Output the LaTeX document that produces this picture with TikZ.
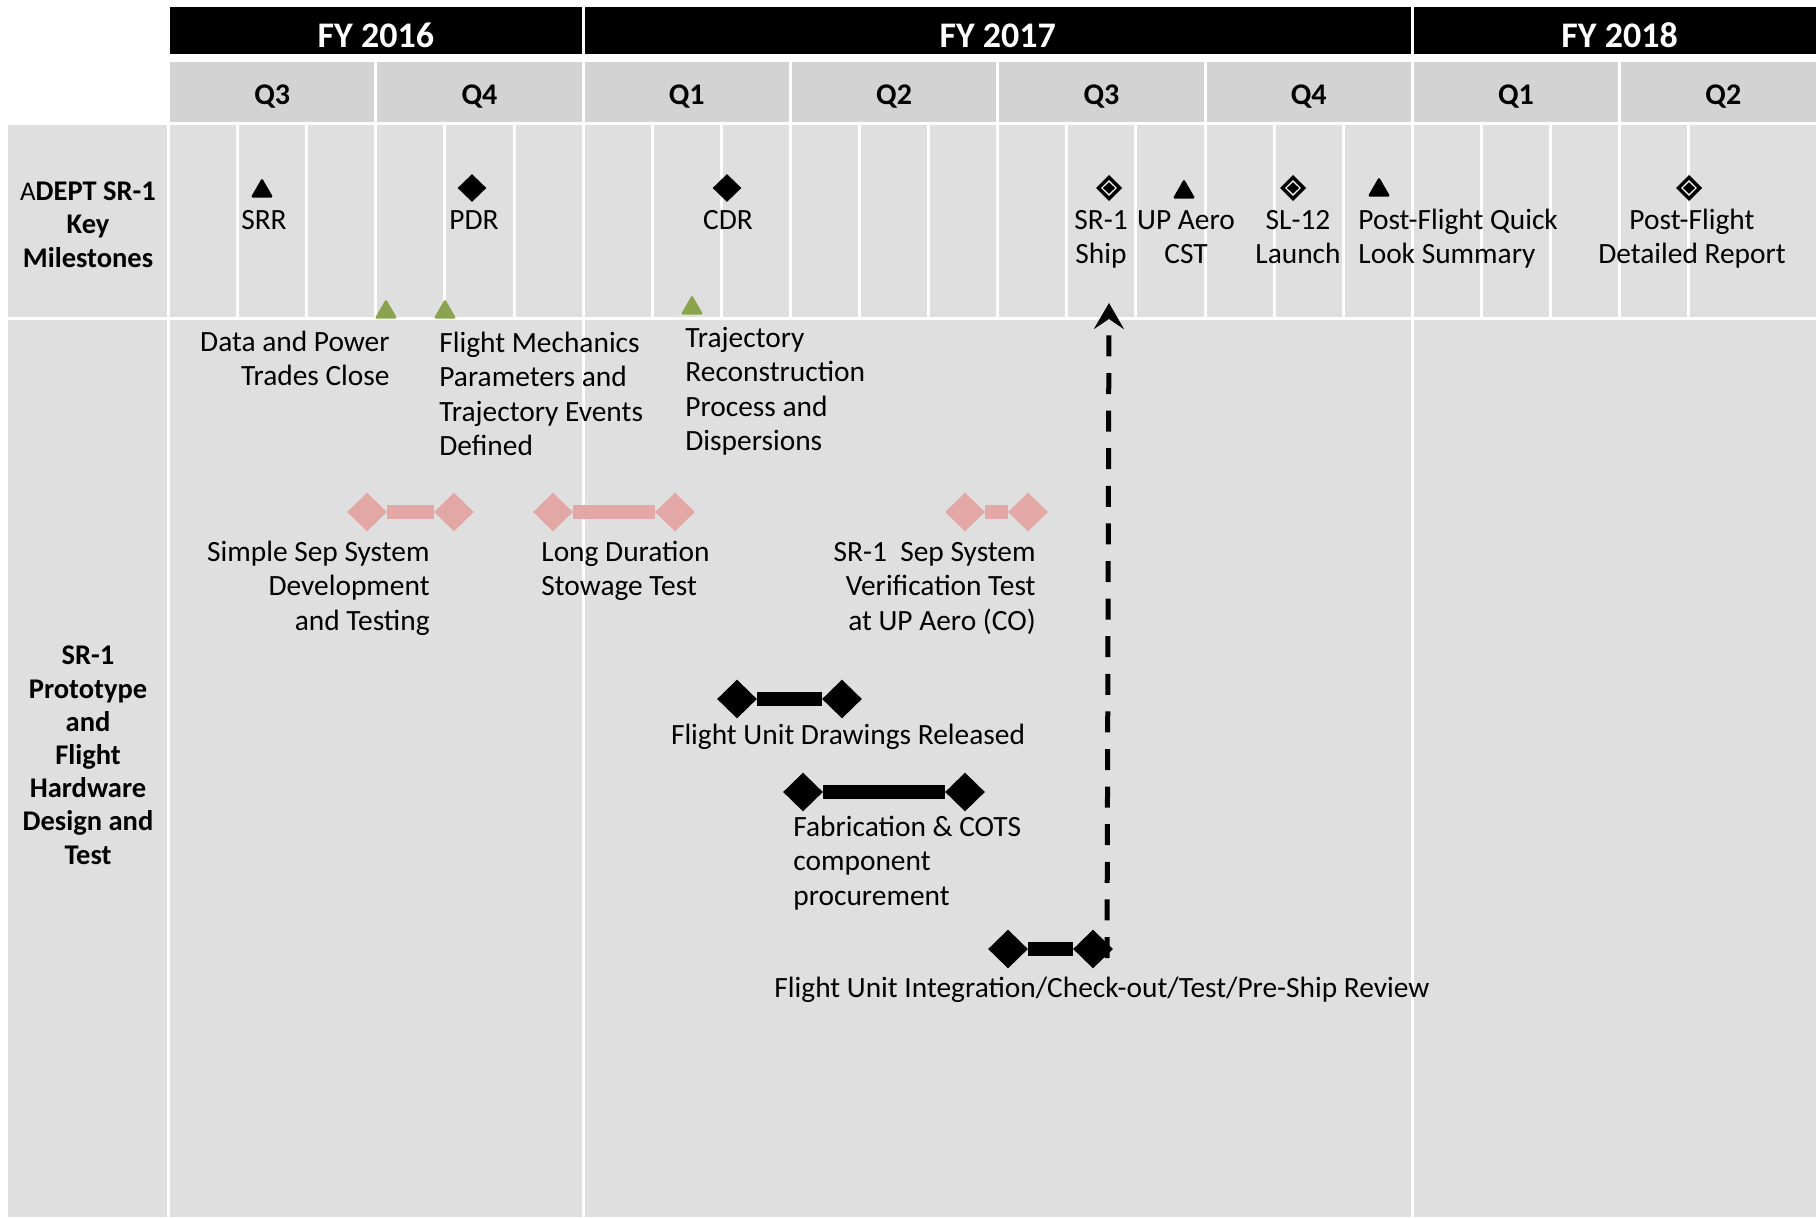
\documentclass[tikz,border=0pt]{standalone}
\usepackage{fontspec}
\setmainfont{Carlito}
\usetikzlibrary{arrows.meta,shapes.geometric}

\definecolor{quartergray}{RGB}{211,211,211}
\definecolor{cellgray}{RGB}{223,223,223}
\definecolor{gategreen}{RGB}{137,164,76}
\definecolor{testpink}{RGB}{227,167,165}

\tikzset{
  gridline/.style={white, line width=1.5pt},
  fylabel/.style={anchor=base, text=white, inner sep=0pt, font=\fontsize{18}{22}\selectfont\bfseries},
  qlabel/.style={anchor=base, inner sep=0pt, font=\fontsize{15}{18}\selectfont\bfseries},
  rowlabel/.style={anchor=base, align=center, inner sep=0pt, font=\fontsize{14.25}{16.6}\selectfont\bfseries},
  txt/.style={inner sep=0pt, font=\fontsize{14.7}{17.25}\selectfont},
  mstri/.style={regular polygon, regular polygon sides=3, fill=black, minimum size=13pt, inner sep=0pt, rounded corners=0.8pt},
  gate/.style={mstri, fill=gategreen},
  msdia/.style={diamond, fill=black, minimum width=14.5pt, minimum height=14pt, inner sep=0pt},
  msopen/.style={diamond, draw=black, line width=1.75pt, fill=white, minimum width=11.25pt, minimum height=11.25pt, inner sep=0pt,
    label={[diamond, fill=black, minimum width=6.25pt, minimum height=6pt, inner sep=0pt]center:}},
  barend/.style={diamond, minimum width=20pt, minimum height=19.5pt, inner sep=0pt},
  pinkend/.style={barend, fill=testpink},
  blackend/.style={barend, fill=black},
  pinkbar/.style={testpink, line width=7pt},
  blackbar/.style={black, line width=7pt},
  shiparrow/.style={line width=2.5pt, dash pattern=on 10.5pt off 8.3pt,
    -{Stealth[length=13pt, width=15pt, inset=5pt]}}
}

\begin{document}
\begin{tikzpicture}[x=0.5pt,y=-0.5pt]
\useasboundingbox (0,0) rectangle (1816,1217);

% header bars and grey cells
\fill[black] (170,7) rectangle (1816,54);
\fill[quartergray] (170,62) rectangle (1816,122);
\fill[cellgray] (8,125) rectangle (1816,1217);

% white grid
\draw[gridline] (583.1,7) -- (583.1,54);
\draw[gridline] (1412.3,7) -- (1412.3,54);
\foreach \k in {3,6,...,21}
  \draw[gridline] ({168.5+69.1*\k},62) -- ++(0,60);
\foreach \k in {0,...,22}
  \draw[gridline] ({168.5+69.1*\k},125) -- ++(0,193);
\draw[gridline] (8,318.5) -- (1816,318.5);
\foreach \xx in {168.5,583.1,1412.3}
  \draw[gridline] (\xx,320) -- (\xx,1217);

% years and quarters
\node[fylabel] (fy16) at (375.8,47) {FY 2016};
\node[fylabel] (fy17) at (997.7,47) {FY 2017};
\node[fylabel] (fy18) at (1619.6,47) {FY 2018};
\foreach \q [count=\j from 0] in {Q3,Q4,Q1,Q2,Q3,Q4,Q1,Q2}
  \node[qlabel] (q\j) at ({272.2+207.3*\j},104) {\q};

% row titles (multi-line nodes sit on their last baseline)
\node[rowlabel] (keyrow) at (88,267) {{\mdseries\fontsize{13.5}{16.6}\selectfont A}DEPT SR-1\\Key\\Milestones};
\node[rowlabel] (hwrow) at (88,864) {SR-1\\Prototype\\and\\Flight\\Hardware\\Design and\\Test};

% key milestones
\node[mstri] (srr) at (262,191) {};
\node[msdia] (pdr) at (472,188) {};
\node[msdia] (cdr) at (727,188) {};
\node[msopen] (ship) at (1109,188) {};
\node[mstri] (cst) at (1184,192) {};
\node[msopen] (launch) at (1293,188) {};
\node[mstri] (quick) at (1379,190) {};
\node[msopen] (report) at (1689,188) {};

\node[txt, anchor=base, align=center] (srrtxt) at (264,229) {SRR};
\node[txt, anchor=base, align=center] (pdrtxt) at (474,229) {PDR};
\node[txt, anchor=base, align=center] (cdrtxt) at (728,229) {CDR};
\node[txt, anchor=base, align=center] (shiptxt) at (1101,263.5) {SR-1\\Ship};
\node[txt, anchor=base, align=center] (csttxt) at (1186,263.5) {UP Aero\\CST};
\node[txt, anchor=base, align=center] (launchtxt) at (1298,263.5) {SL-12\\Launch};
\node[txt, anchor=base west, align=left] (quicktxt) at (1358,263.5) {Post-Flight Quick\\Look Summary};
\node[txt, anchor=base, align=center] (reporttxt) at (1692,263.5) {Post-Flight\\Detailed Report};

% internal gates
\node[gate] (gate1) at (386,312) {};
\node[gate] (gate2) at (445,312) {};
\node[gate] (gate3) at (692,308) {};

\node[txt, anchor=base east, align=right] (tradestxt) at (390,385.5) {Data and Power\\Trades Close};
\node[txt, anchor=base west, align=left] (fmtxt) at (439,455.5) {Flight Mechanics\\Parameters and\\Trajectory Events\\Defined};
\node[txt, anchor=base west, align=left] (trajtxt) at (685,450.5) {Trajectory\\Reconstruction\\Process and\\Dispersions};

% separation system tests
\node[pinkend] (sep1a) at (367,512) {};
\node[pinkend] (sep1b) at (454,512) {};
\draw[pinkbar] (sep1a) -- (sep1b);
\node[pinkend] (stow1a) at (553,512) {};
\node[pinkend] (stow1b) at (675,512) {};
\draw[pinkbar] (stow1a) -- (stow1b);
\node[pinkend] (verif1a) at (965,512) {};
\node[pinkend] (verif1b) at (1028,512) {};
\draw[pinkbar] (verif1a) -- (verif1b);

\node[txt, anchor=base east, align=right] (septxt) at (430,630) {Simple Sep System\\Development\\and Testing};
\node[txt, anchor=base west, align=left] (stowtxt) at (541,595.5) {Long Duration\\Stowage Test};
\node[txt, anchor=base east, align=right] (veriftxt) at (1036,630) {SR-1\ \ Sep System\\Verification Test\\at UP Aero (CO)};

% flight unit
\node[blackend] (draw1a) at (737,699) {};
\node[blackend] (draw1b) at (842,699) {};
\draw[blackbar] (draw1a) -- (draw1b);
\node[txt, anchor=base] (drawtxt) at (848,744) {Flight Unit Drawings Released};

\node[blackend] (fab1a) at (803,792) {};
\node[blackend] (fab1b) at (965,792) {};
\draw[blackbar] (fab1a) -- (fab1b);
\node[txt, anchor=base west, align=left] (fabtxt) at (793,905) {Fabrication \& COTS\\component\\procurement};

\node[blackend] (int1a) at (1008,949) {};
\node[blackend] (int1b) at (1093,949) {};
\draw[blackbar] (int1a) -- (int1b);
\node[txt, anchor=base] (inttxt) at (1102,997) {Flight Unit Integration/Check-out/Test/Pre-Ship Review};

% ship date link
\coordinate (shipfoot) at (1107,958);
\coordinate (shiptip) at (1109,303);
\draw[shiparrow] (shipfoot) -- (shiptip);
\end{tikzpicture}
\end{document}
